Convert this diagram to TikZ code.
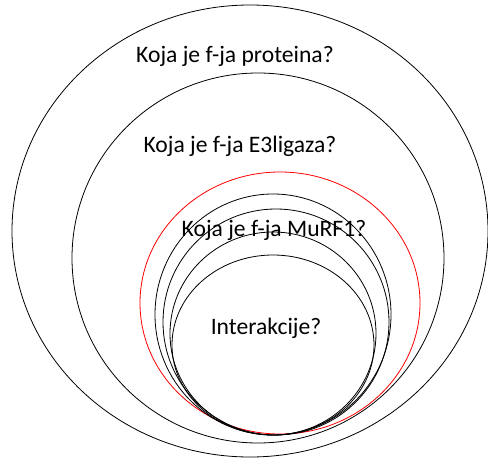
\documentclass[tikz,border=0pt]{standalone}
\usepackage{fontspec}
\setmainfont{Carlito}
\begin{document}
\begin{tikzpicture}[x=1pt,y=-1pt,line join=bevel,]
 \tikzset{ring/.style={draw=black,line width=0.8pt}, question/.style={draw=none,font=\fontsize{23.6}{28}\selectfont}}
 \useasboundingbox (0,0) rectangle (488,458);
 \clip (0,0) rectangle (488,458);

 \draw [ring] (250,231) ellipse (238 and 226);
 \draw [ring] (258,258) ellipse (186 and 185);
 \draw [ring,draw=red] (280,303) ellipse (140 and 131);
 \draw [ring] (273,314.5) ellipse (118 and 120.5);
 \draw [ring] (276,322) ellipse (113 and 113);
 \draw [ring] (273,333.5) ellipse (103 and 101.5);
 \draw [ring] (273,345) ellipse (101 and 90);

 \node (node_0) at (235,56) [question] {Koja je f-ja proteina?};
 \node (node_1) at (240,146) [question] {Koja je f-ja E3ligaza?};
 \node (node_2) at (274,230) [question] {Koja je f-ja MuRF1?};
 \node (node_3) at (266,328) [question] {Interakcije?};
\end{tikzpicture}
\end{document}
